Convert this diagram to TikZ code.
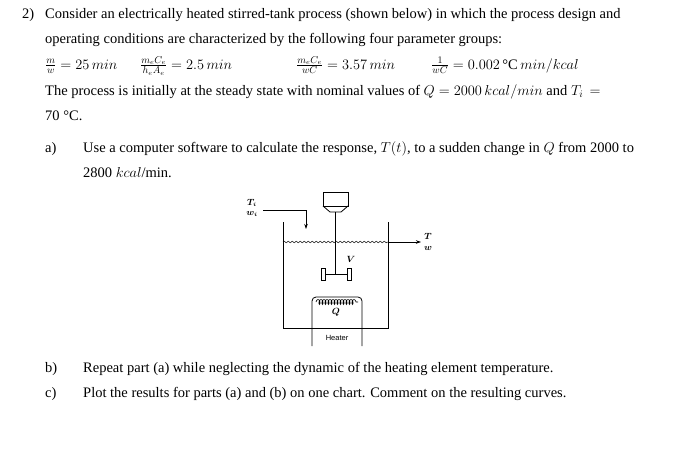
\documentclass[tikz,border=0pt]{standalone}
\usepackage{fontspec}
\setmainfont{Liberation Serif}
\setsansfont{Liberation Sans}
\usetikzlibrary{arrows.meta,decorations.pathmorphing}
\begin{document}
\begin{tikzpicture}[x=1pt,y=-1pt,
  txt/.style={anchor=base west,inner sep=0pt,font=\fontsize{14.5}{16}\selectfont},
  lbl/.style={inner sep=0pt,font=\fontsize{9}{10}\selectfont\boldmath},
  pipe/.style={line width=0.8pt},
  flow/.style={line width=0.8pt,-{Stealth[length=5pt,width=3.5pt]}}]
\useasboundingbox (0,0) rectangle (700,458);
\fill[white] (0,0) rectangle (700,458);
% text
\node[txt] (n2) at (22,18) {2)};
\node[txt] (l1) at (45,18) {Consider an electrically heated stirred-tank process (shown below) in which the process design and};
\node[txt] (l2) at (45,43) {operating conditions are characterized by the following four parameter groups:};
\node[txt] (e1) at (45,69) {$\frac{m}{w}=25\,min$};
\node[txt] (e2) at (140,69) {$\frac{m_eC_e}{h_eA_e}=2.5\,min$};
\node[txt] (e3) at (296,69) {$\frac{m_eC_e}{wC}=3.57\,min$};
\node[txt] (e4) at (431,69) {$\frac{1}{wC}=0.002\,$°C$\,min/kcal$};
\node[txt] (l4) at (45,95) {The process is initially at the steady state with nominal values of $Q=2000\,kcal/min$ and $T_i\,=$};
\node[txt] (l5) at (45,120) {70 °C.};
\node[txt] (ia) at (45,152) {a)};
\node[txt] (la1) at (83,152) {Use a computer software to calculate the response, $T(t)$, to a sudden change in $Q$ from 2000 to};
\node[txt] (la2) at (83,177) {2800 $kcal$/min.};
\node[txt] (ib) at (45,372) {b)};
\node[txt] (lb) at (83,372) {Repeat part (a) while neglecting the dynamic of the heating element temperature.};
\node[txt] (ic) at (45,397) {c)};
\node[txt] (lc) at (83,397) {Plot the results for parts (a) and (b) on one chart. Comment on the resulting curves.};
% diagram
\node[lbl] (Ti) at (252,203) {$T_i$};
\node[lbl] (wi) at (252,214) {$w_i$};
\coordinate (in0) at (263,210);
\coordinate (in1) at (306,210);
\coordinate (in2) at (306,229);
\draw[pipe] (in0) -- (in1);
\draw[flow] (in1) -- (in2);
\draw[pipe] (283,222) -- (283,328) -- (388,328) -- (388,222);
\draw[line width=0.5pt,decorate,decoration={snake,amplitude=0.8pt,segment length=4pt}] (283,242) -- (388,242);
\coordinate (out0) at (388,242);
\coordinate (out1) at (421,242);
\draw[flow] (out0) -- (out1);
\node[lbl] (T) at (428,236) {$T$};
\node[lbl] (w) at (428,248) {$w$};
% motor
\draw[pipe] (323,192) rectangle (348,206);
\draw[pipe] (323,206) -- (330,212) -- (341,212) -- (348,206);
\draw[pipe] (335.5,212) -- (335.5,274);
\draw[pipe] (325,274) -- (347,274);
\draw[pipe] (321,268) rectangle (325,280);
\draw[pipe] (347,268) rectangle (351,280);
\node[lbl] (V) at (351,259) {$V$};
% heater
\draw[pipe,rounded corners=4pt] (312,346) -- (312,297) -- (362,297) -- (362,346);
\draw[line width=0.6pt,decorate,decoration={coil,amplitude=2.5pt,segment length=3pt}] (316,302) -- (358,302);
\node[lbl] (Q) at (336,312) {$Q$};
\node[lbl,font=\sffamily\fontsize{7.5}{8}\selectfont] (H) at (337,338) {Heater};
\end{tikzpicture}
\end{document}
